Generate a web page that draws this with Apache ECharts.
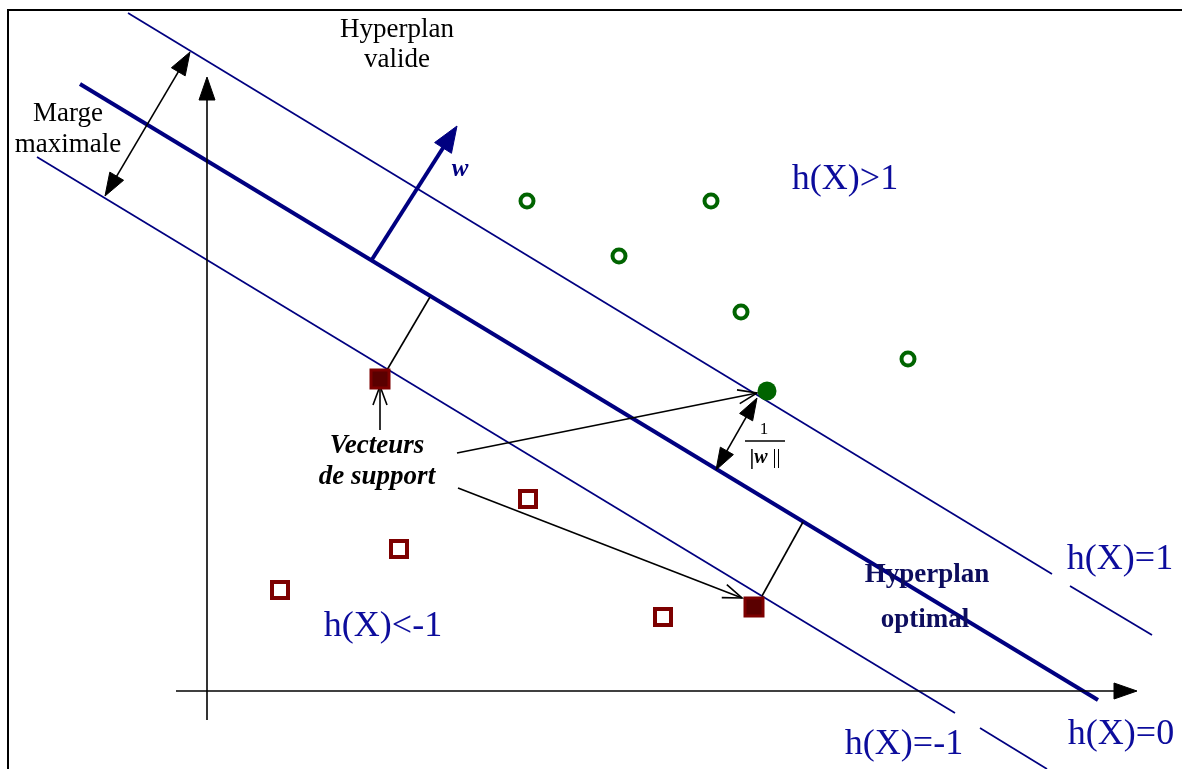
<!DOCTYPE html>
<html>
<head>
<meta charset="utf-8">
<script src="https://cdn.jsdelivr.net/npm/echarts@6/dist/echarts.min.js"></script>
<style>
html,body{margin:0;padding:0;background:#fff;}
#c{width:1182px;height:769px;}
</style>
</head>
<body>
<div id="c"></div>
<script>
// ---- Data (diagram coordinates, x to the right, y downward) ----
const upperMarginLine = [[128, 13], [1052, 574]];
const upperMarginTail = [[1070, 586], [1152, 635]];
const optimalLine = [[80, 84], [1098, 700]];
const lowerMarginLine = [[37, 157], [955, 713]];
const lowerMarginTail = [[980, 728], [1047, 769]];

const classPlus = [[527, 201], [711, 201], [619, 256], [741, 312], [908, 359]];
const classPlusSupport = [[767, 391]];
const classMinus = [[528, 499], [399, 549], [280, 590], [663, 617]];
const classMinusSupport = [[380, 379], [754, 607]];

// arrows: [x1, y1, x2, y2] (tip at x2,y2)
const axisArrows = [[207, 720, 207, 77], [176, 691, 1137, 691]];
const margeArrow = [[105, 196, 190, 52]];
const wVector = [[371, 261, 457, 126]];
const supportArrows = [[380, 430, 380, 386], [457, 453, 757, 393], [458, 488, 742, 598]];
const normArrow = [[716, 470, 757, 398]];
const perpSegments = [[387, 370, 430, 297], [762, 596, 803, 522]];

const NAVY = '#000080';
const TXT_NAVY = '#0c0c9c';
const DARK_RED = '#7d0000';
const GREEN = '#006400';

function arrowSeries(data, o) {
  return {
    type: 'custom',
    data: data,
    silent: true,
    z: o.z || 3,
    renderItem: function (params, api) {
      const a = api.coord([api.value(0), api.value(1)]);
      const b = api.coord([api.value(2), api.value(3)]);
      const dx = b[0] - a[0], dy = b[1] - a[1];
      const L = Math.hypot(dx, dy);
      const ux = dx / L, uy = dy / L, nx = -uy, ny = ux;
      const hl = o.headLen || 0, hw = o.headW || 0;
      const children = [];
      let s = a.slice(), e = b.slice();
      function head(tip, dx1, dy1) {
        const bx = tip[0] - dx1 * hl, by = tip[1] - dy1 * hl;
        const p1 = [bx + nx * hw / 2, by + ny * hw / 2];
        const p2 = [bx - nx * hw / 2, by - ny * hw / 2];
        if (o.head === 'filled') {
          children.push({type: 'polygon', shape: {points: [tip, p1, p2]},
            style: {fill: o.color, stroke: o.color, lineWidth: 1}});
        } else {
          children.push({type: 'polyline', shape: {points: [p1, tip, p2]},
            style: {fill: null, stroke: o.color, lineWidth: o.width}});
        }
      }
      if (o.head && o.head !== 'none') {
        head(b, ux, uy);
        if (o.head === 'filled') e = [b[0] - ux * hl * 0.8, b[1] - uy * hl * 0.8];
        if (o.double) {
          head(a, -ux, -uy);
          if (o.head === 'filled') s = [a[0] + ux * hl * 0.8, a[1] + uy * hl * 0.8];
        }
      }
      children.unshift({type: 'line', shape: {x1: s[0], y1: s[1], x2: e[0], y2: e[1]},
        style: {stroke: o.color, lineWidth: o.width}});
      return {type: 'group', children: children};
    }
  };
}

function lineSeries(data, color, width) {
  return {type: 'line', data: data, symbol: 'none', silent: true, z: 2,
    lineStyle: {color: color, width: width}};
}

function txt(text, x, y, font, fill, extra) {
  return Object.assign({type: 'text', x: x, y: y, silent: true, z: 10,
    style: Object.assign({text: text, font: font, fill: fill, align: 'center', verticalAlign: 'middle'}, extra || {})});
}

const SERIF = '"Liberation Serif", "DejaVu Serif", serif';

const chart = echarts.init(document.getElementById('c'), null, {renderer: 'canvas'});
chart.setOption({
  animation: false,
  backgroundColor: '#ffffff',
  grid: {left: 0, right: 0, top: 0, bottom: 0},
  xAxis: {type: 'value', min: 0, max: 1182, show: false},
  yAxis: {type: 'value', min: 0, max: 769, inverse: true, show: false},
  series: [
    lineSeries(upperMarginLine, NAVY, 1.7),
    lineSeries(upperMarginTail, NAVY, 1.7),
    lineSeries(optimalLine, NAVY, 4),
    lineSeries(lowerMarginLine, NAVY, 1.7),
    lineSeries(lowerMarginTail, NAVY, 1.7),
    arrowSeries(axisArrows, {color: '#000', width: 1.6, head: 'filled', headLen: 23, headW: 16}),
    arrowSeries(margeArrow, {color: '#000', width: 1.6, head: 'filled', headLen: 23, headW: 16, double: true}),
    arrowSeries(wVector, {color: NAVY, width: 4, head: 'filled', headLen: 26, headW: 20}),
    arrowSeries(supportArrows, {color: '#000', width: 1.6, head: 'open', headLen: 19, headW: 14}),
    arrowSeries(normArrow, {color: '#000', width: 1.6, head: 'filled', headLen: 22, headW: 15, double: true}),
    arrowSeries(perpSegments, {color: '#000', width: 1.6, head: 'none'}),
    {type: 'scatter', data: classPlus, symbol: 'circle', symbolSize: 13, silent: true, z: 5,
      itemStyle: {color: '#fff', borderColor: GREEN, borderWidth: 4, opacity: 1}},
    {type: 'scatter', data: classPlusSupport, symbol: 'circle', symbolSize: 19, silent: true, z: 5,
      itemStyle: {color: GREEN, opacity: 1}},
    {type: 'scatter', data: classMinus, symbol: 'rect', symbolSize: 16, silent: true, z: 5,
      itemStyle: {color: '#fff', borderColor: DARK_RED, borderWidth: 4, opacity: 1}},
    {type: 'scatter', data: classMinusSupport, symbol: 'rect', symbolSize: 18, silent: true, z: 5,
      itemStyle: {color: '#5a0000', borderColor: DARK_RED, borderWidth: 3, opacity: 1}}
  ],
  graphic: [
    {type: 'polyline', silent: true, z: 10, shape: {points: [[8, 769], [8, 10], [1182, 10]]},
      style: {stroke: '#000', lineWidth: 2, fill: null}},
    txt('Hyperplan', 397, 30, '27px ' + SERIF, '#000'),
    txt('valide', 397, 60, '27px ' + SERIF, '#000'),
    txt('Marge', 68, 114, '27px ' + SERIF, '#000'),
    txt('maximale', 68, 145, '27px ' + SERIF, '#000'),
    txt('w', 460, 170, 'bold italic 25px ' + SERIF, NAVY),
    txt('h(X)>1', 845, 180, '36px ' + SERIF, TXT_NAVY),
    txt('Vecteurs', 377, 446, 'bold italic 27px ' + SERIF, '#000'),
    txt('de support', 377, 477, 'bold italic 27px ' + SERIF, '#000'),
    txt('h(X)<-1', 383, 627, '36px ' + SERIF, TXT_NAVY),
    txt('Hyperplan', 927, 575, 'bold 27px ' + SERIF, '#0d0d5e'),
    txt('optimal', 925, 620, 'bold 27px ' + SERIF, '#0d0d5e'),
    txt('h(X)=1', 1120, 560, '36px ' + SERIF, TXT_NAVY),
    txt('h(X)=0', 1121, 735, '36px ' + SERIF, TXT_NAVY),
    txt('h(X)=-1', 904, 745, '36px ' + SERIF, TXT_NAVY),
    txt('1', 764, 430, '17px ' + SERIF, '#000'),
    {type: 'line', silent: true, z: 10, shape: {x1: 745, y1: 441, x2: 785, y2: 441},
      style: {stroke: '#000', lineWidth: 1.5}},
    txt('{a||}{b|w}{c| ||}', 765, 458, '20px ' + SERIF, '#000', {
      rich: {
        a: {font: 'bold 22px ' + SERIF, fill: '#000'},
        b: {font: 'bold italic 20px ' + SERIF, fill: '#000'},
        c: {font: '20px ' + SERIF, fill: '#000'}
      }
    })
  ]
});
</script>
</body>
</html>
